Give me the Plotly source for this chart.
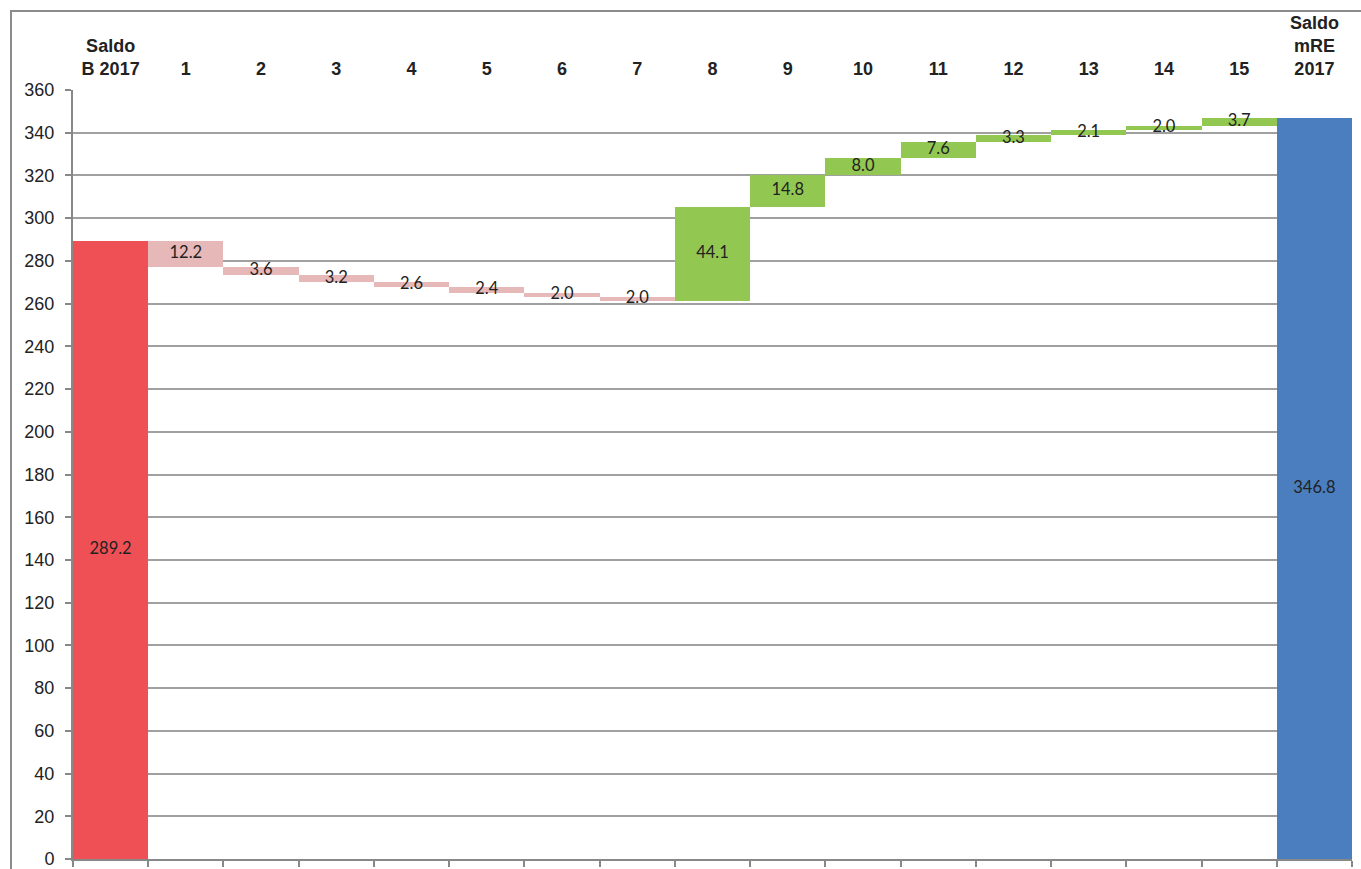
import plotly.graph_objects as go

# Categories (top axis labels)
categories = ["Saldo<br>B 2017", "1", "2", "3", "4", "5", "6", "7", "8", "9",
              "10", "11", "12", "13", "14", "15", "Saldo<br>mRE<br>2017"]

# Opening balance, changes per item, closing balance
start_value = 289.2
changes = [-12.2, -3.6, -3.2, -2.6, -2.4, -2.0, -2.0,
           44.1, 14.8, 8.0, 7.6, 3.3, 2.1, 2.0, 3.7]
end_value = 346.8

y_ticks = list(range(0, 361, 20))

COL_START = "#EF5055"
COL_DOWN = "#E6B8B7"
COL_UP = "#92C851"
COL_END = "#4A7EBF"

# Build floating bars: base and height for every category
bases, heights, colors, labels = [], [], [], []
bases.append(0)
heights.append(start_value)
colors.append(COL_START)
labels.append(start_value)
level = start_value
for c in changes:
    new_level = level + c
    bases.append(min(level, new_level))
    heights.append(abs(c))
    colors.append(COL_UP if c > 0 else COL_DOWN)
    labels.append(abs(c))
    level = new_level
bases.append(0)
heights.append(end_value)
colors.append(COL_END)
labels.append(end_value)

xs = list(range(len(categories)))
mids = [b + h / 2 for b, h in zip(bases, heights)]

fig = go.Figure()
fig.add_trace(go.Bar(
    x=xs, y=heights, base=bases, width=1.0,
    marker=dict(color=colors, line=dict(width=0)),
    hoverinfo="skip", showlegend=False,
))
fig.add_trace(go.Scatter(
    x=xs, y=mids, mode="text",
    text=[f"{v:.1f}" for v in labels],
    textposition="middle center",
    textfont=dict(family="Lato, Carlito, sans-serif", size=16.5, color="#222222"),
    hoverinfo="skip", showlegend=False,
))
# invisible trace to activate the bottom axis
fig.add_trace(go.Scatter(x=[-0.5, 16.5], y=[0, 0], xaxis="x2", mode="lines",
                         line=dict(width=0), hoverinfo="skip", showlegend=False))

W, H = 1361, 869
ml, mr, mt, mb = 73, 9, 90, 10
pw, ph = W - ml - mr, H - mt - mb

fig.update_layout(
    width=W, height=H,
    margin=dict(l=ml, r=mr, t=mt, b=mb, autoexpand=False),
    paper_bgcolor="white", plot_bgcolor="white",
    bargap=0,
    xaxis=dict(
        side="top", range=[-0.5, 16.5], automargin=False,
        tickmode="array", tickvals=xs, ticktext=categories,
        ticks="", ticklabelstandoff=10, ticklabeloverflow="allow",
        showgrid=False, showline=False, zeroline=False,
        tickfont=dict(family="Liberation Sans, Arial, sans-serif", size=18,
                      color="#222222", weight="bold"),
    ),
    xaxis2=dict(
        overlaying="x", side="bottom", range=[-0.5, 16.5], automargin=False,
        tickmode="array", tickvals=[i - 0.5 for i in range(18)],
        showticklabels=False, ticks="outside", ticklen=6, tickwidth=2,
        tickcolor="#888888", showline=True, linecolor="#888888", linewidth=2,
        showgrid=False, zeroline=False, anchor="y",
    ),
    yaxis=dict(
        range=[0, 360], tickmode="array", tickvals=y_ticks, automargin=False,
        ticks="outside", ticklen=6, tickwidth=2, tickcolor="#888888",
        ticklabelstandoff=7, ticklabeloverflow="allow",
        showline=True, linecolor="#888888", linewidth=2,
        showgrid=True, gridcolor="#A0A0A0", gridwidth=1.6, zeroline=False,
        tickfont=dict(family="Liberation Sans, Arial, sans-serif", size=18,
                      color="#222222"),
    ),
    shapes=[dict(
        type="rect", xref="paper", yref="paper",
        x0=(11 - ml) / pw, x1=(W + 6 - ml) / pw,
        y0=-(14) / ph, y1=(H - mb - 11) / ph,
        line=dict(color="#8C8C8C", width=2), fillcolor="rgba(0,0,0,0)",
        layer="below",
    )],
)

fig.write_html("out.html")
